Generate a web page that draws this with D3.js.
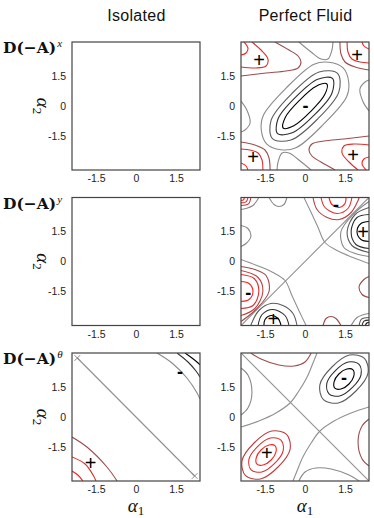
<!DOCTYPE html>
<html>
<head>
<meta charset="utf-8">
<script src="https://cdn.jsdelivr.net/npm/d3@7"></script>
<style>
  body { margin: 0; background: #fff; }
  svg { display: block; }
  .tick text { font-family: "Liberation Sans", Arial, sans-serif; font-size: 10.5px; fill: #222; }
</style>
</head>
<body>
<svg id="chart" width="374" height="518"></svg>
<script>
// ---- data ----
const columns = ["Isolated", "Perfect Fluid"];
const rowNames = ["x", "y", "θ"];
const tickValues = [-1.5, 0, 1.5];
const alpha1Domain = [-2.4, 2.4];
const alpha2Domain = [-3.2, 3.2];

// contour lines: lv = level (-4 most negative .. 4 most positive), ring = closed curve
const isoX = [];
const isoY = [];
const isoTheta = [
  {lv: 0, p: [[-2.2, 2.95], [2.2, -2.95]], straight: true},
  {lv: -1, p: [[0.79, 3.2], [1.35, 2.7], [1.91, 1.95], [2.29, 1.2], [2.4, 0.9]]},
  {lv: -3, p: [[1.54, 3.2], [1.95, 2.75], [2.25, 2.3], [2.4, 2.0]]},
  {lv: -4, p: [[1.84, 3.2], [2.1, 2.95], [2.33, 2.7], [2.4, 2.6]]},
  {lv: 1, p: [[-2.4, -1.0], [-1.84, -1.5], [-1.09, -2.5], [-0.71, -3.2]]},
  {lv: 3, p: [[-2.4, -2.0], [-1.91, -2.35], [-1.61, -2.9], [-1.5, -3.2]]},
  {lv: 4, p: [[-2.4, -2.7], [-2.18, -2.9], [-1.99, -3.2]]}
];
const isoThetaMarks = [[-2.2, 2.95], [2.2, -2.95]];

const fluidX = [
  {lv: -4, ring: true, p: [[0.82, 1.10], [0.74, 0.57], [0.21, -0.28], [-0.42, -0.99], [-0.82, -1.10], [-0.74, -0.57], [-0.21, 0.28], [0.42, 0.99]]},
  {lv: -3, ring: true, p: [[1.03, 1.38], [1.01, 0.64], [0.34, -0.46], [-0.48, -1.34], [-1.03, -1.38], [-1.01, -0.64], [-0.34, 0.46], [0.48, 1.34]]},
  {lv: -2, ring: true, p: [[1.22, 1.63], [1.27, 0.71], [0.48, -0.64], [-0.53, -1.70], [-1.22, -1.63], [-1.27, -0.71], [-0.48, 0.64], [0.53, 1.70]]},
  {lv: -1, ring: true, p: [[1.43, 1.91], [1.64, 1.20], [1.56, 0.46], [0.69, -0.92], [-0.34, -2.09], [-0.90, -2.19], [-1.43, -1.91], [-1.64, -1.20], [-1.56, -0.46], [-0.69, 0.92], [0.34, 2.09], [0.90, 2.19]]},
  {lv: 1, p: [[-1.13, 3.2], [-0.6, 2.8], [-0.26, 2.5], [-0.15, 2.2], [-0.26, 1.9], [-0.71, 1.75], [-1.46, 1.65], [-2.4, 1.5]]},
  {lv: 3, p: [[-1.99, 3.2], [-1.65, 2.8], [-1.39, 2.35], [-1.46, 2.0], [-1.84, 1.9], [-2.4, 1.95]]},
  {lv: 4, p: [[-2.29, 3.2], [-2.14, 2.9], [-2.21, 2.65], [-2.4, 2.55]]},
  {lv: 1, p: [[1.13, -3.2], [0.6, -2.8], [0.26, -2.5], [0.15, -2.2], [0.26, -1.9], [0.71, -1.75], [1.46, -1.65], [2.4, -1.5]]},
  {lv: 3, p: [[1.99, -3.2], [1.65, -2.8], [1.39, -2.35], [1.46, -2.0], [1.84, -1.9], [2.4, -1.95]]},
  {lv: 4, p: [[2.29, -3.2], [2.14, -2.9], [2.21, -2.65], [2.4, -2.55]]},
  {lv: 1, p: [[1.31, 3.2], [1.35, 2.6], [1.5, 2.2], [1.88, 1.95], [2.4, 1.8]]},
  {lv: 3, p: [[1.58, 3.2], [1.61, 2.7], [1.76, 2.35], [2.06, 2.2], [2.4, 2.15]]},
  {lv: 4, p: [[2.14, 3.2], [2.21, 3.0], [2.4, 2.85]]},
  {lv: 1, p: [[-1.31, -3.2], [-1.35, -2.6], [-1.5, -2.2], [-1.88, -1.95], [-2.4, -1.8]]},
  {lv: 3, p: [[-1.58, -3.2], [-1.61, -2.7], [-1.76, -2.35], [-2.06, -2.2], [-2.4, -2.15]]},
  {lv: 4, p: [[-2.14, -3.2], [-2.21, -3.0], [-2.4, -2.85]]},
  {lv: -1, p: [[-0.23, 3.2], [0.23, 2.7], [0.6, 2.35], [0.86, 2.35], [1.01, 2.8], [1.05, 3.2]]},
  {lv: -1, p: [[0.23, -3.2], [-0.23, -2.7], [-0.6, -2.35], [-0.86, -2.35], [-1.01, -2.8], [-1.05, -3.2]]},
  {lv: -1, p: [[-2.4, 0.25], [-2.18, -0.2], [-2.06, -0.85], [-2.25, -1.2], [-2.4, -1.3]]},
  {lv: -1, p: [[2.4, -0.25], [2.18, 0.2], [2.06, 0.85], [2.25, 1.2], [2.4, 1.3]]}
];
const fluidXSigns = [["-", 0.02, 0], ["+", -1.72, 2.3], ["+", 1.95, 2.55], ["+", -1.95, -2.55], ["+", 1.8, -2.45]];

const fluidY = [
  {lv: 0, p: [[-2.4, -3.2], [2.4, 3.2]], straight: true},
  {lv: 0, p: [[-0.04, 3.2], [0.23, 2.45], [0.49, 1.7], [0.75, 0.95], [1.2, 0.55], [1.8, 0.2], [2.4, -0.1]]},
  {lv: 0, p: [[0.04, -3.2], [-0.23, -2.45], [-0.49, -1.7], [-0.75, -0.95], [-1.2, -0.55], [-1.8, -0.2], [-2.4, 0.1]]},
  {lv: 2, p: [[0.3, 3.2], [0.45, 2.6], [0.83, 2.2], [1.28, 2.1], [1.73, 2.45], [1.99, 3.05], [2.03, 3.2]]},
  {lv: 3, p: [[0.6, 3.2], [0.75, 2.7], [1.2, 2.4], [1.61, 2.65], [1.76, 3.2]]},
  {lv: 4, p: [[0.9, 3.2], [1.01, 2.85], [1.28, 2.7], [1.5, 2.9], [1.54, 3.2]]},
  {lv: -2, p: [[-0.3, -3.2], [-0.45, -2.6], [-0.83, -2.2], [-1.28, -2.1], [-1.73, -2.45], [-1.99, -3.05], [-2.03, -3.2]]},
  {lv: -3, p: [[-0.6, -3.2], [-0.75, -2.7], [-1.2, -2.4], [-1.61, -2.65], [-1.76, -3.2]]},
  {lv: -4, p: [[-0.9, -3.2], [-1.01, -2.85], [-1.28, -2.7], [-1.5, -2.9], [-1.54, -3.2]]},
  {lv: -4, p: [[2.4, 2.0], [2.1, 1.9], [1.95, 1.5], [2.1, 1.1], [2.4, 1.0]]},
  {lv: -3, p: [[2.4, 2.35], [1.95, 2.2], [1.73, 1.5], [1.91, 0.85], [2.4, 0.65]]},
  {lv: -2, p: [[2.4, 2.7], [1.88, 2.35], [1.58, 1.5], [1.76, 0.8], [2.4, 0.45]]},
  {lv: -1, p: [[2.4, 3.0], [1.84, 2.4], [1.35, 1.5], [1.46, 0.7], [1.88, 0.4], [2.4, 0.25]]},
  {lv: 4, p: [[-2.4, -2.0], [-2.1, -1.9], [-1.95, -1.5], [-2.1, -1.1], [-2.4, -1.0]]},
  {lv: 3, p: [[-2.4, -2.35], [-1.95, -2.2], [-1.73, -1.5], [-1.91, -0.85], [-2.4, -0.65]]},
  {lv: 2, p: [[-2.4, -2.7], [-1.88, -2.35], [-1.58, -1.5], [-1.76, -0.8], [-2.4, -0.45]]},
  {lv: 1, p: [[-2.4, -3.0], [-1.84, -2.4], [-1.35, -1.5], [-1.46, -0.7], [-1.88, -0.4], [-2.4, -0.25]]},
  {lv: 4, p: [[-2.27, 3.2], [-2.31, 3.08], [-2.4, 3.05]]},
  {lv: 3, p: [[-2.14, 3.2], [-2.21, 2.98], [-2.4, 2.93]]},
  {lv: 2, p: [[-2.03, 3.2], [-2.12, 2.88], [-2.4, 2.8]]},
  {lv: -1, p: [[-1.73, 3.2], [-1.95, 2.8], [-2.21, 2.65], [-2.4, 2.6]]},
  {lv: -4, p: [[2.27, -3.2], [2.31, -3.08], [2.4, -3.05]]},
  {lv: -3, p: [[2.14, -3.2], [2.21, -2.98], [2.4, -2.93]]},
  {lv: -2, p: [[2.03, -3.2], [2.12, -2.88], [2.4, -2.8]]},
  {lv: -1, p: [[1.73, -3.2], [1.95, -2.8], [2.21, -2.65], [2.4, -2.6]]},
  {lv: -1, p: [[-1.35, 3.2], [-1.16, 2.85], [-0.98, 2.75], [-0.79, 2.85], [-0.68, 3.2]]},
  {lv: 1, p: [[1.35, -3.2], [1.16, -2.85], [0.98, -2.75], [0.79, -2.85], [0.68, -3.2]]},
  {lv: -1, p: [[-2.4, 1.8], [-2.14, 1.65], [-2.03, 1.25], [-2.21, 0.9], [-2.4, 0.75]]},
  {lv: 1, p: [[2.4, -1.8], [2.14, -1.65], [2.03, -1.25], [2.21, -0.9], [2.4, -0.75]]}
];
const fluidYSigns = [["-", 1.16, 2.85], ["+", 2.18, 1.5], ["-", -2.13, -1.55], ["+", -1.19, -2.85]];

const fluidTheta = [
  {lv: 0, p: [[-2.4, 3.2], [2.4, -3.2]], straight: true},
  {lv: 0, p: [[-2.4, -0.5], [-1.73, -0.2], [-1.09, 0.2], [-0.56, 0.7], [-0.23, 1.3], [0.08, 2.0], [0.3, 2.7], [0.45, 3.2]]},
  {lv: 0, p: [[2.4, 0.5], [1.73, 0.2], [1.09, -0.2], [0.56, -0.7], [0.23, -1.3], [-0.08, -2.0], [-0.3, -2.7], [-0.45, -3.2]]},
  {lv: -4, ring: true, p: [[1.80, 2.36], [1.83, 2.04], [1.65, 1.65], [1.35, 1.40], [1.12, 1.44], [1.09, 1.76], [1.27, 2.15], [1.57, 2.40]]},
  {lv: -3, ring: true, p: [[2.02, 2.64], [2.10, 2.11], [1.78, 1.48], [1.30, 1.05], [0.90, 1.16], [0.82, 1.69], [1.14, 2.32], [1.62, 2.75]]},
  {lv: -2, ring: true, p: [[2.23, 2.93], [2.36, 2.18], [1.91, 1.30], [1.25, 0.70], [0.69, 0.87], [0.56, 1.62], [1.01, 2.50], [1.67, 3.10]]},
  {lv: 4, ring: true, p: [[-1.80, -2.36], [-1.83, -2.04], [-1.65, -1.65], [-1.35, -1.40], [-1.12, -1.44], [-1.09, -1.76], [-1.27, -2.15], [-1.57, -2.40]]},
  {lv: 3, ring: true, p: [[-2.02, -2.64], [-2.10, -2.11], [-1.78, -1.48], [-1.30, -1.05], [-0.90, -1.16], [-0.82, -1.69], [-1.14, -2.32], [-1.62, -2.75]]},
  {lv: 2, ring: true, p: [[-2.23, -2.93], [-2.36, -2.18], [-1.91, -1.30], [-1.25, -0.70], [-0.69, -0.87], [-0.56, -1.62], [-1.01, -2.50], [-1.67, -3.10]]},
  {lv: -1, p: [[-2.4, 2.45], [-2.14, 2.1], [-1.99, 1.2], [-2.14, 0.45], [-2.4, 0.1]]},
  {lv: 1, p: [[2.4, -2.45], [2.14, -2.1], [1.99, -1.2], [2.14, -0.45], [2.4, -0.1]]},
  {lv: 1, p: [[-2.03, 3.2], [-1.65, 2.9], [-0.98, 2.6], [-0.41, 2.55], [0, 2.75], [0.23, 3.2]]},
  {lv: -1, p: [[2.03, -3.2], [1.65, -2.9], [0.98, -2.6], [0.41, -2.55], [0, -2.75], [-0.23, -3.2]]}
];
const fluidThetaSigns = [["-", 1.46, 1.95], ["+", -1.43, -1.8]];
const isoThetaSigns = [["-", 1.65, 2.25], ["+", -1.7, -2.3]];

const panels = [
  {row: 0, col: 0, lines: isoX, signs: []},
  {row: 0, col: 1, lines: fluidX, signs: fluidXSigns},
  {row: 1, col: 0, lines: isoY, signs: []},
  {row: 1, col: 1, lines: fluidY, signs: fluidYSigns},
  {row: 2, col: 0, lines: isoTheta, signs: isoThetaSigns, marks: isoThetaMarks},
  {row: 2, col: 1, lines: fluidTheta, signs: fluidThetaSigns}
];

// ---- layout ----
const size = 128;
const colX = [72, 241];
const rowY = [42, 197.5, 353];

const svg = d3.select("#chart");

const levelColour = d3.scaleLinear()
  .domain([-4, -1, 0, 1, 4])
  .range(["#000000", "#8a8a8a", "#909090", "#9c4d4d", "#ff1f1f"]);

const x = d3.scaleLinear().domain(alpha1Domain).range([0, size]);
const y = d3.scaleLinear().domain(alpha2Domain).range([size, 0]);

// column titles
svg.selectAll(".col-title")
  .data(columns)
  .join("text")
  .attr("class", "col-title")
  .attr("x", (d, i) => colX[i] + size / 2 + 0.5)
  .attr("y", 21)
  .attr("text-anchor", "middle")
  .style("font-family", "'Liberation Sans', Arial, sans-serif")
  .style("font-size", "16px")
  .style("letter-spacing", "0.3px")
  .attr("fill", "#111")
  .text(d => d);

// row labels D(-A)^x etc
rowNames.forEach((r, i) => {
  const t = svg.append("text")
    .attr("x", 3)
    .attr("y", rowY[i] + 11)
    .style("font-family", "'DejaVu Serif', serif")
    .style("font-size", "15.5px")
    .style("font-weight", "bold")
    .attr("fill", "#111");
  t.append("tspan").text("D(\u2212A)");
  t.append("tspan")
    .attr("dy", -6)
    .attr("dx", 1)
    .style("font-family", "'Liberation Serif', serif")
    .style("font-size", "11px")
    .style("font-weight", "normal")
    .style("font-style", "italic")
    .text(r);
});

// alpha_2 labels on the left column
rowY.forEach(top => {
  const t = svg.append("text")
    .attr("transform", `translate(37,${top + size / 2}) rotate(90)`)
    .attr("text-anchor", "middle")
    .style("font-family", "'Liberation Serif', 'DejaVu Serif', serif")
    .style("font-size", "19px")
    .attr("fill", "#111");
  t.append("tspan").style("font-style", "italic").text("α");
  t.append("tspan").attr("dy", 4).style("font-size", "13px").text("2");
});

// alpha_1 labels under bottom row
colX.forEach(left => {
  const t = svg.append("text")
    .attr("x", left + size / 2)
    .attr("y", 512)
    .attr("text-anchor", "middle")
    .style("font-family", "'Liberation Serif', 'DejaVu Serif', serif")
    .style("font-size", "19px")
    .attr("fill", "#111");
  t.append("tspan").style("font-style", "italic").text("α");
  t.append("tspan").attr("dy", 3).style("font-size", "13px").text("1");
});

const line = d3.line().x(d => x(d[0])).y(d => y(d[1]));

panels.forEach((pn, k) => {
  const g = svg.append("g")
    .attr("transform", `translate(${colX[pn.col]},${rowY[pn.row]})`);

  g.append("clipPath").attr("id", "clip" + k)
    .append("rect").attr("width", size).attr("height", size);

  const body = g.append("g").attr("clip-path", `url(#clip${k})`);

  body.selectAll("path.contour")
    .data(pn.lines)
    .join("path")
    .attr("class", "contour")
    .attr("fill", "none")
    .attr("stroke", d => levelColour(d.lv))
    .attr("stroke-width", 1.1)
    .attr("d", d => line.curve(d.straight ? d3.curveLinear
      : d.ring ? d3.curveCatmullRomClosed : d3.curveCatmullRom)(d.p));

  if (pn.marks) {
    body.selectAll("path.mark")
      .data(pn.marks)
      .join("path")
      .attr("class", "mark")
      .attr("transform", d => `translate(${x(d[0])},${y(d[1])})`)
      .attr("d", d3.symbol(d3.symbolX, 22))
      .attr("fill", "none")
      .attr("stroke", "#8a8a8a")
      .attr("stroke-width", 1);
  }

  body.selectAll("text.sign")
    .data(pn.signs)
    .join("text")
    .attr("class", "sign")
    .attr("x", d => x(d[1]))
    .attr("y", d => y(d[2]))
    .attr("text-anchor", "middle")
    .attr("dominant-baseline", "central")
    .style("font-family", "'Liberation Sans', Arial, sans-serif")
    .style("font-size", d => d[0] === "+" ? "20px" : "18px")
    .style("font-weight", d => d[0] === "-" ? "bold" : "normal")
    .attr("fill", "#000")
    .text(d => d[0]);

  g.append("rect")
    .attr("width", size).attr("height", size)
    .attr("fill", "none")
    .attr("stroke", "#444")
    .attr("stroke-width", 1.2);

  g.append("g")
    .attr("transform", `translate(0,${size})`)
    .call(d3.axisBottom(x).tickValues(tickValues).tickSize(0).tickPadding(5).tickFormat(d => String(d)))
    .call(a => a.select(".domain").remove());

  g.append("g")
    .call(d3.axisLeft(y).tickValues(tickValues).tickSize(0).tickPadding(6).tickFormat(d => String(d)))
    .call(a => a.select(".domain").remove());
});
</script>
</body>
</html>
